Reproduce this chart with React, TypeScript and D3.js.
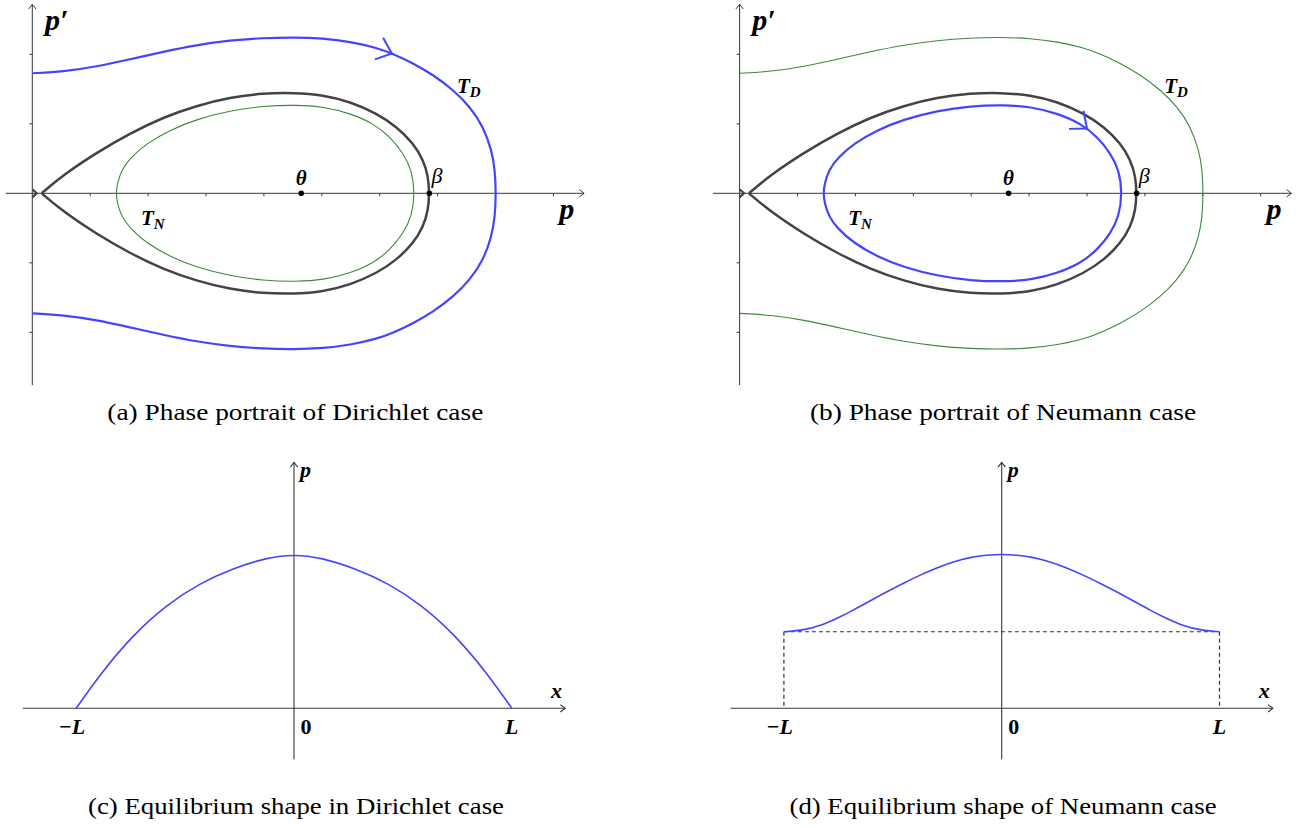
import React from 'react';
import * as d3 from 'd3';

type Pt = [number, number];

const W = 1303;
const H = 828;

// phase plane (p, p'), upper halves; lower halves are mirrored
const separatrixUpper: Pt[] = [
  [0.161, 0], [0.535, 0.264], [1.111, 0.585], [1.687, 0.863], [2.263, 1.094],
  [2.838, 1.261], [3.414, 1.381], [3.99, 1.439], [4.508, 1.448], [5.026, 1.415],
  [5.486, 1.319], [5.947, 1.151], [6.293, 0.959], [6.58, 0.719], [6.753, 0.48],
  [6.839, 0.24], [6.857, 0],
];
const innerOrbitUpper: Pt[] = [
  [1.445, 0], [1.468, 0.144], [1.543, 0.336], [1.687, 0.504], [1.975, 0.719],
  [2.378, 0.911], [2.838, 1.065], [3.414, 1.189], [3.99, 1.257], [4.565, 1.271],
  [5.026, 1.247], [5.486, 1.151], [5.889, 1.007], [6.177, 0.815], [6.408, 0.576],
  [6.552, 0.336], [6.609, 0],
];
const outerOrbitUpper: Pt[] = [
  [0, 1.727], [0.535, 1.751], [1.111, 1.823], [1.687, 1.928], [2.263, 2.038],
  [2.838, 2.134], [3.414, 2.201], [3.99, 2.235], [4.508, 2.245], [5.026, 2.23],
  [5.486, 2.182], [5.947, 2.096], [6.235, 2.005], [6.58, 1.871], [6.926, 1.703],
  [7.271, 1.487], [7.559, 1.247], [7.789, 0.959], [7.933, 0.624], [7.991, 0.336],
  [8.008, 0],
];
const saddleMark: Pt[] = [[0, 0.058], [0.076, 0], [0, -0.058]];
const thetaP = 4.645;
const betaP = 6.857;
const pTicks = [1, 2, 3, 4, 5, 6, 7, 8, 9];
const dpTicks = [-2, -1, 1, 2];
const arrowOuterP = 6.21;
const arrowInnerP = 6.0;

// equilibrium shapes, x in units of L, p scaled to the peak
const dirichletX = [-1, -0.893, -0.74, -0.586, -0.433, -0.279, -0.126, 0, 0.126, 0.279, 0.433, 0.586, 0.74, 0.893, 1];
const dirichletP = [0, 0.216, 0.476, 0.671, 0.812, 0.909, 0.978, 1, 0.978, 0.909, 0.812, 0.671, 0.476, 0.216, 0];
const neumannX = [-1, -0.908, -0.832, -0.756, -0.679, -0.603, -0.527, -0.451, -0.374, -0.298, -0.222, -0.145, -0.069, 0,
  0.069, 0.145, 0.222, 0.298, 0.374, 0.451, 0.527, 0.603, 0.679, 0.756, 0.832, 0.908, 1];
const neumannP = [0.497, 0.508, 0.536, 0.584, 0.638, 0.699, 0.757, 0.812, 0.866, 0.913, 0.952, 0.981, 0.995, 1,
  0.995, 0.981, 0.952, 0.913, 0.866, 0.812, 0.757, 0.699, 0.638, 0.584, 0.536, 0.508, 0.497];
const neumannEdge = 0.497;

const captions = [
  { text: '(a) Phase portrait of Dirichlet case', cx: 295.3, y: 420, w: 376 },
  { text: '(b) Phase portrait of Neumann case', cx: 1003, y: 420, w: 386 },
  { text: '(c) Equilibrium shape in Dirichlet case', cx: 296, y: 814, w: 416 },
  { text: '(d) Equilibrium shape of Neumann case', cx: 1003, y: 814, w: 427 },
];

const BLUE = '#4444ff';
const GREEN = '#3a8a3a';
const DARK = '#434343';
const AXIS = '#383838';
const MATH = "'Liberation Serif', 'Times New Roman', serif";

const neg = (d: Pt): Pt => [d[0], -d[1]];
const openLoop = (up: Pt[]) => [...up, ...up.slice(0, -1).reverse().map(neg)];
const closedLoop = (up: Pt[]) => [...up, ...up.slice(1, -1).reverse().map(neg)];

function chevron(tx: number, ty: number, th: number, len: number, ang: number) {
  const r = (ang * Math.PI) / 180;
  const a = [tx - len * Math.cos(th - r), ty - len * Math.sin(th - r)];
  const b = [tx - len * Math.cos(th + r), ty - len * Math.sin(th + r)];
  return `M${a[0]},${a[1]}L${tx},${ty}L${b[0]},${b[1]}`;
}

function curveArrow(up: Pt[], atP: number, x: any, y: any) {
  const i = up.findIndex((d, k) => k < up.length - 1 && d[0] <= atP && up[k + 1][0] >= atP);
  const a = up[i];
  const b = up[i + 1];
  const t = (atP - a[0]) / (b[0] - a[0]);
  const tx = x(atP);
  const ty = y(a[1] + t * (b[1] - a[1]));
  const th = Math.atan2(y(b[1]) - y(a[1]), x(b[0]) - x(a[0]));
  return chevron(tx, ty, th, 18, 40);
}

function PhasePanel({ ox, dirichlet }: { ox: number; dirichlet: boolean }) {
  const x = d3.scaleLinear().domain([0, 9]).range([ox, ox + 9 * 57.9]);
  const y = d3.scaleLinear().domain([-2, 2]).range([193.3 + 139, 193.3 - 139]);
  const line = d3.line<Pt>().x(d => x(d[0])).y(d => y(d[1])).curve(d3.curveBasis);
  const closed = d3.line<Pt>().x(d => x(d[0])).y(d => y(d[1])).curve(d3.curveBasisClosed);
  const plain = d3.line<Pt>().x(d => x(d[0])).y(d => y(d[1]));

  const outerStyle = dirichlet ? { stroke: BLUE, strokeWidth: 2.2 } : { stroke: GREEN, strokeWidth: 1.1 };
  const innerStyle = dirichlet ? { stroke: GREEN, strokeWidth: 1.1 } : { stroke: BLUE, strokeWidth: 2.2 };
  const arrow = dirichlet ? curveArrow(outerOrbitUpper, arrowOuterP, x, y) : curveArrow(innerOrbitUpper, arrowInnerP, x, y);

  const x0 = x(-0.46), x1 = x(9.53), yTop = y(2.72), yBot = y(-2.76);
  return (
    <g>
      <line x1={x0} x2={x1} y1={y(0)} y2={y(0)} stroke={AXIS} strokeWidth={1} />
      <path d={chevron(x1, y(0), 0, 6, 38)} fill="none" stroke={AXIS} strokeWidth={1} />
      <line x1={x(0)} x2={x(0)} y1={yTop} y2={yBot} stroke={AXIS} strokeWidth={1} />
      <path d={chevron(x(0), yTop, -Math.PI / 2, 6, 38)} fill="none" stroke={AXIS} strokeWidth={1} />
      {pTicks.map(t => (
        <line key={'px' + t} x1={x(t)} x2={x(t)} y1={y(0)} y2={y(0) + 3} stroke={AXIS} strokeWidth={1} />
      ))}
      {dpTicks.map(t => (
        <line key={'py' + t} x1={x(0) - 3} x2={x(0)} y1={y(t)} y2={y(t)} stroke={AXIS} strokeWidth={1} />
      ))}

      <path d={line(openLoop(outerOrbitUpper)) || ''} fill="none" {...outerStyle} />
      <path d={closed(closedLoop(innerOrbitUpper)) || ''} fill="none" {...innerStyle} />
      <path d={line(openLoop(separatrixUpper)) || ''} fill="none" stroke={DARK} strokeWidth={2.5} />
      <path d={plain(saddleMark) || ''} fill="none" stroke={DARK} strokeWidth={2.2} />
      <path d={arrow} fill="none" stroke={BLUE} strokeWidth={2} />

      <circle cx={x(thetaP)} cy={y(0)} r={2.8} fill="#000" />
      <circle cx={x(betaP)} cy={y(0)} r={2.8} fill="#000" />

      <g fontFamily={MATH} fill="#000">
        <text x={x(0.22)} y={y(2.35)} fontSize={30} fontStyle="italic" fontWeight="bold">p′</text>
        <text x={x(9.1)} y={y(-0.37)} fontSize={30} fontStyle="italic" fontWeight="bold">p</text>
        <text x={x(thetaP)} y={y(0.12)} fontSize={21} fontStyle="italic" fontWeight="bold" textAnchor="middle">θ</text>
        <text x={x(6.895)} y={y(0.15)} fontSize={22} fontStyle="italic">β</text>
        <text x={x(7.335)} y={y(1.44)} fontSize={21} fontStyle="italic" fontWeight="bold">
          T<tspan fontSize={15} dy={4}>D</tspan>
        </text>
        <text x={x(1.877)} y={y(-0.45)} fontSize={21} fontStyle="italic" fontWeight="bold">
          T<tspan fontSize={15} dy={4}>N</tspan>
        </text>
      </g>
    </g>
  );
}

function ShapePanel({ ox, xs, ps, neumann }: { ox: number; xs: number[]; ps: number[]; neumann: boolean }) {
  const half = 217.8;
  const x = d3.scaleLinear().domain([-1, 1]).range([ox - half, ox + half]);
  const y = d3.scaleLinear().domain([0, 1]).range([708.3, 554.3]);
  const pts: Pt[] = xs.map((v, i) => [v, ps[i]]);
  const line = d3.line<Pt>().x(d => x(d[0])).y(d => y(d[1])).curve(d3.curveBasis);
  const x0 = x(-1.245), x1 = x(1.245), yTop = y(1.597), yBot = y(-0.331);
  const lbl = { fontFamily: MATH, fontSize: 22, fontWeight: 'bold' as const };
  return (
    <g>
      <line x1={x0} x2={x1} y1={y(0)} y2={y(0)} stroke={AXIS} strokeWidth={1.1} />
      <path d={chevron(x1, y(0), 0, 6, 38)} fill="none" stroke={AXIS} strokeWidth={1.1} />
      <line x1={x(0)} x2={x(0)} y1={yTop} y2={yBot} stroke={AXIS} strokeWidth={1.1} />
      <path d={chevron(x(0), yTop, -Math.PI / 2, 6, 38)} fill="none" stroke={AXIS} strokeWidth={1.1} />
      {neumann && (
        <g stroke="#333" strokeWidth={1.2} strokeDasharray="4 3" fill="none">
          <line x1={x(-1)} x2={x(1)} y1={y(neumannEdge)} y2={y(neumannEdge)} />
          <line x1={x(-1)} x2={x(-1)} y1={y(neumannEdge)} y2={y(0)} />
          <line x1={x(1)} x2={x(1)} y1={y(neumannEdge)} y2={y(0)} />
        </g>
      )}
      <path d={line(pts) || ''} fill="none" stroke={BLUE} strokeWidth={1.6} />
      <g fill="#000">
        <text x={x(0) + 6} y={y(1.5)} {...lbl} fontStyle="italic">p</text>
        <text x={x(1.18)} y={y(0.07)} {...lbl} fontStyle="italic">x</text>
        <text x={x(-1.02)} y={y(-0.17)} {...lbl} fontStyle="italic" textAnchor="middle">−L</text>
        <text x={x(0) + 12} y={y(-0.17)} {...lbl} textAnchor="middle">0</text>
        <text x={x(1)} y={y(-0.17)} {...lbl} fontStyle="italic" textAnchor="middle">L</text>
      </g>
    </g>
  );
}

export default function App() {
  return (
    <svg width={W} height={H} style={{ position: 'absolute', left: 0, top: 0, background: '#fff' }}>
      <rect width={W} height={H} fill="#fff" />
      <PhasePanel ox={32.3} dirichlet={true} />
      <PhasePanel ox={739.6} dirichlet={false} />
      <ShapePanel ox={294} xs={dirichletX} ps={dirichletP} neumann={false} />
      <ShapePanel ox={1001.7} xs={neumannX} ps={neumannP} neumann={true} />
      {captions.map(c => (
        <text key={c.text} x={c.cx - c.w / 2} y={c.y} fontFamily="'Liberation Serif', serif" fontSize={23}
          textLength={c.w} lengthAdjust="spacingAndGlyphs" fill="#000">{c.text}</text>
      ))}
    </svg>
  );
}
